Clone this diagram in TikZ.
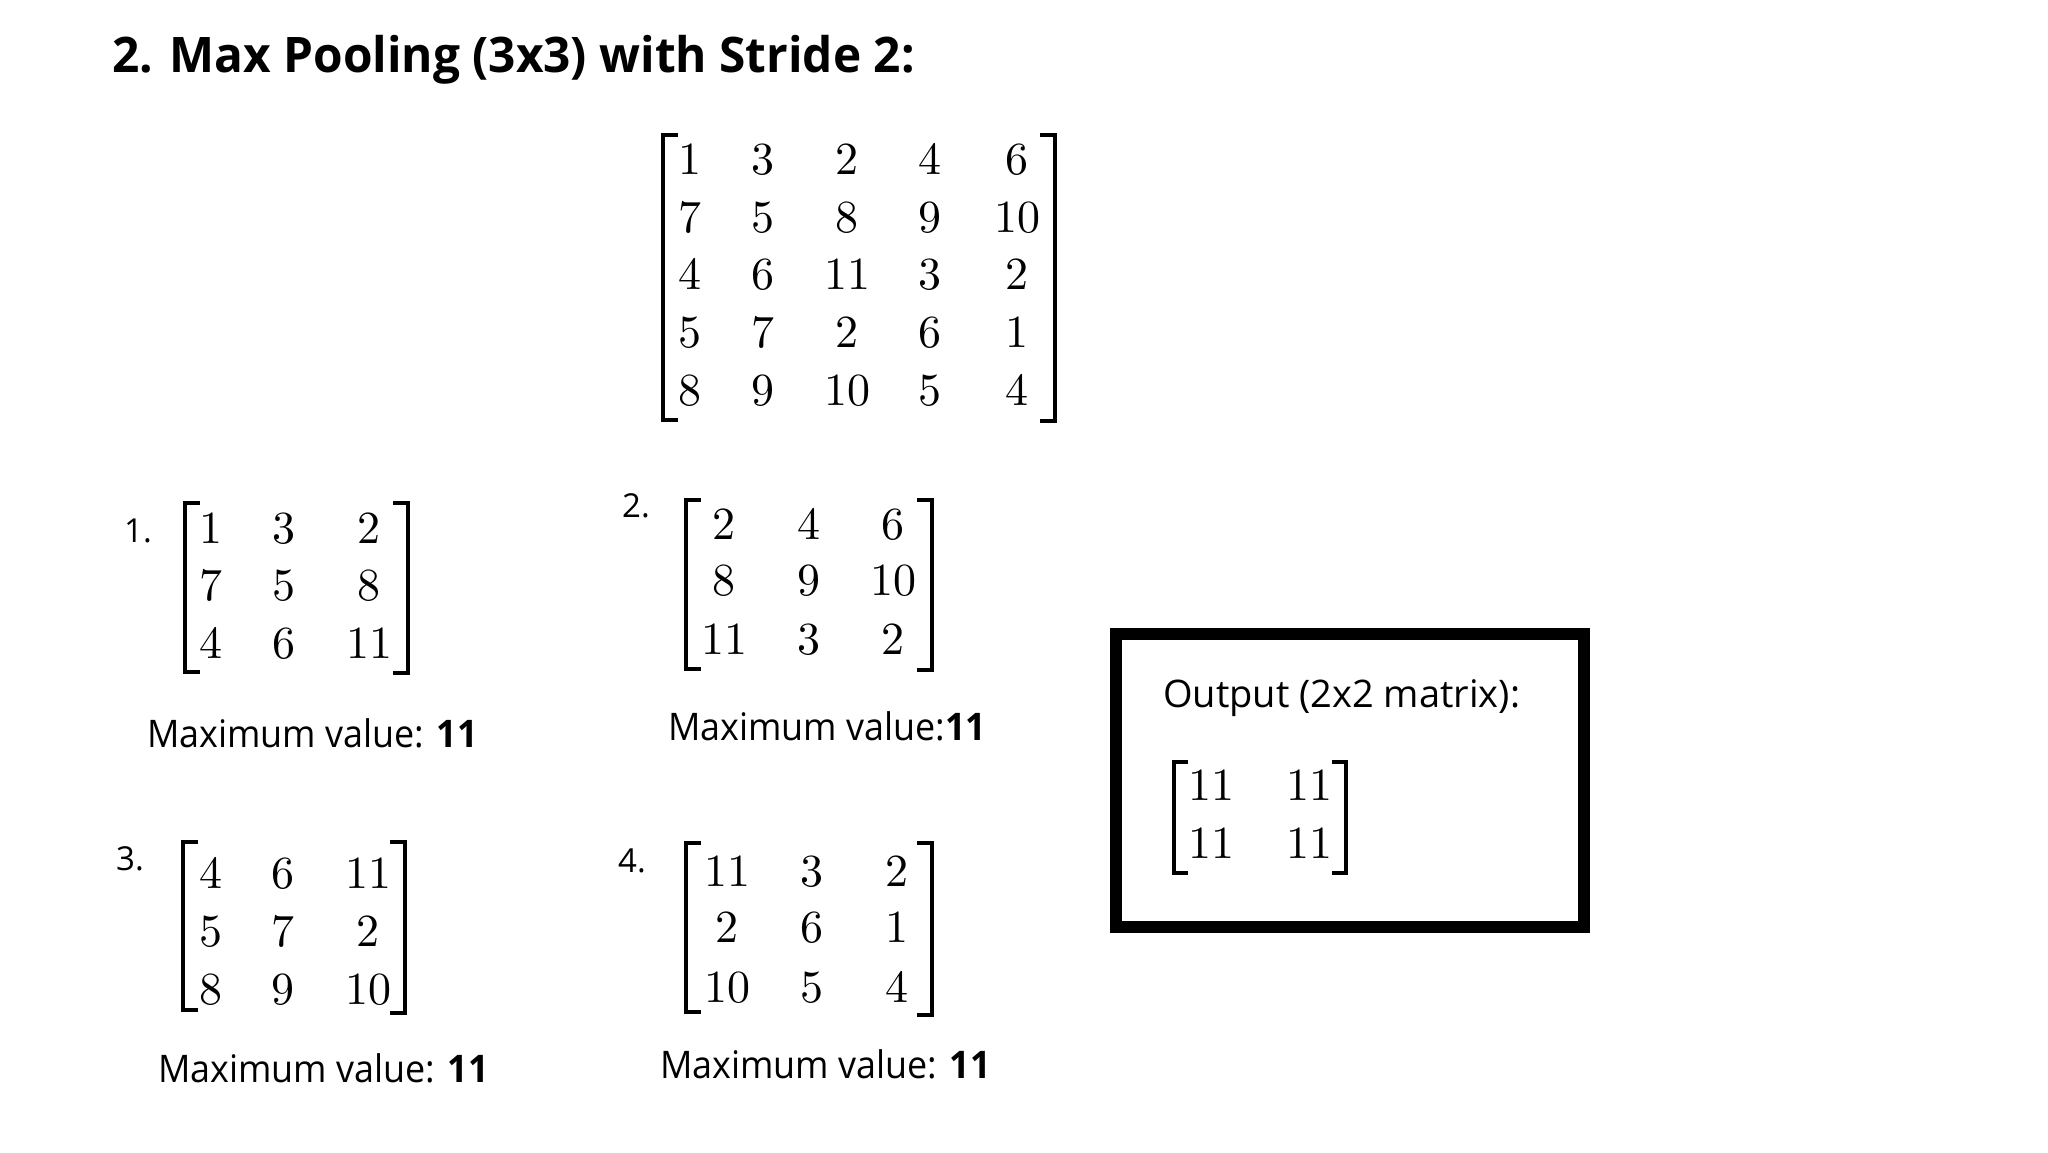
\documentclass[tikz,border=0pt]{standalone}
\usepackage{fontspec}
\newfontfamily\uifont{Open Sans}
\newfontfamily\numfont{lmroman10-regular.otf}
\newcommand{\squeezed}[1]{\scalebox{0.945}[1]{#1}}
\begin{document}
\begin{tikzpicture}[x=1pt,y=-1pt,
  num/.style={anchor=base, inner sep=0pt, font=\numfont\fontsize{46}{50}\selectfont},
  lbl/.style={anchor=base, inner sep=0pt, font=\uifont\fontsize{33}{40}\selectfont},
  maxt/.style={anchor=base west, inner sep=0pt, font=\uifont\fontsize{38}{44}\selectfont},
  titl/.style={anchor=base west, inner sep=0pt, font=\uifont\bfseries\fontsize{49}{56}\selectfont},
  brk/.style={line width=4pt, line cap=butt, line join=miter},
  obox/.style={draw, line width=12pt}]
\fill[white] (0,0) rectangle (2048,1152);
\useasboundingbox (0,0) rectangle (2048,1152);

% title
\node[titl] (title) at (112,72) {\scalebox{0.975}[1]{2. Max Pooling (3x3) with Stride 2:}};

% big input matrix
\foreach \x/\v [count=\c] in {690/1,763/3,847/2,930/4,1017/6} \node[num] (m0-1-\c) at (\x,174) {\v};
\foreach \x/\v [count=\c] in {690/7,763/5,847/8,930/9,1017/10} \node[num] (m0-2-\c) at (\x,232) {\v};
\foreach \x/\v [count=\c] in {690/4,763/6,847/11,930/3,1017/2} \node[num] (m0-3-\c) at (\x,289) {\v};
\foreach \x/\v [count=\c] in {690/5,763/7,847/2,930/6,1017/1} \node[num] (m0-4-\c) at (\x,347) {\v};
\foreach \x/\v [count=\c] in {690/8,763/9,847/10,930/5,1017/4} \node[num] (m0-5-\c) at (\x,405) {\v};
\draw[brk] (678,135) -- (663,135) -- (663,420) -- (678,420);
\draw[brk] (1040,135) -- (1055,135) -- (1055,421) -- (1040,421);

% window 1
\node[lbl] (l1) at (138,542) {1.};
\foreach \x/\v [count=\c] in {211/1,284/3,369/2} \node[num] (a-1-\c) at (\x,543) {\v};
\foreach \x/\v [count=\c] in {211/7,284/5,369/8} \node[num] (a-2-\c) at (\x,600) {\v};
\foreach \x/\v [count=\c] in {211/4,284/6,369/11} \node[num] (a-3-\c) at (\x,658) {\v};
\draw[brk] (200,503) -- (185,503) -- (185,672) -- (200,672);
\draw[brk] (393,503) -- (408,503) -- (408,673) -- (393,673);
\node[maxt] (x1) at (147,747) {\squeezed{Maximum value: \textbf{11}}};

% window 2
\node[lbl] (l2) at (636,517) {2.};
\foreach \x/\v [count=\c] in {724/2,809/4,893/6} \node[num] (b-1-\c) at (\x,539) {\v};
\foreach \x/\v [count=\c] in {724/8,809/9,893/10} \node[num] (b-2-\c) at (\x,595) {\v};
\foreach \x/\v [count=\c] in {724/11,809/3,893/2} \node[num] (b-3-\c) at (\x,654) {\v};
\draw[brk] (701,500) -- (686,500) -- (686,669) -- (701,669);
\draw[brk] (917,500) -- (932,500) -- (932,670) -- (917,670);
\node[maxt] (x2) at (668,740) {\squeezed{Maximum value:\textbf{11}}};

% window 3
\node[lbl] (l3) at (130,870) {3.};
\foreach \x/\v [count=\c] in {211/4,283/6,368/11} \node[num] (c-1-\c) at (\x,888) {\v};
\foreach \x/\v [count=\c] in {211/5,283/7,368/2} \node[num] (c-2-\c) at (\x,946) {\v};
\foreach \x/\v [count=\c] in {211/8,283/9,368/10} \node[num] (c-3-\c) at (\x,1004) {\v};
\draw[brk] (198,842) -- (183,842) -- (183,1010) -- (198,1010);
\draw[brk] (390,842) -- (405,842) -- (405,1013) -- (390,1013);
\node[maxt] (x3) at (158,1082) {\squeezed{Maximum value: \textbf{11}}};

% window 4
\node[lbl] (l4) at (632,872) {4.};
\foreach \x/\v [count=\c] in {727/11,812/3,897/2} \node[num] (d-1-\c) at (\x,886) {\v};
\foreach \x/\v [count=\c] in {727/2,812/6,897/1} \node[num] (d-2-\c) at (\x,942) {\v};
\foreach \x/\v [count=\c] in {727/10,812/5,897/4} \node[num] (d-3-\c) at (\x,1002) {\v};
\draw[brk] (701,843) -- (686,843) -- (686,1012) -- (701,1012);
\draw[brk] (917,843) -- (932,843) -- (932,1015) -- (917,1015);
\node[maxt] (x4) at (660,1078) {\squeezed{Maximum value: \textbf{11}}};

% output box
\draw[obox] (1116,634) rectangle (1584,927);
\node[maxt] (otitle) at (1163,707) {Output (2x2 matrix):};
\foreach \x/\v [count=\c] in {1211/11,1309/11} \node[num] (o-1-\c) at (\x,800) {\v};
\foreach \x/\v [count=\c] in {1211/11,1309/11} \node[num] (o-2-\c) at (\x,858) {\v};
\draw[brk, line width=3.5pt] (1188,762) -- (1174,762) -- (1174,873) -- (1188,873);
\draw[brk, line width=3.5pt] (1332,762) -- (1346,762) -- (1346,873) -- (1332,873);
\end{tikzpicture}
\end{document}
